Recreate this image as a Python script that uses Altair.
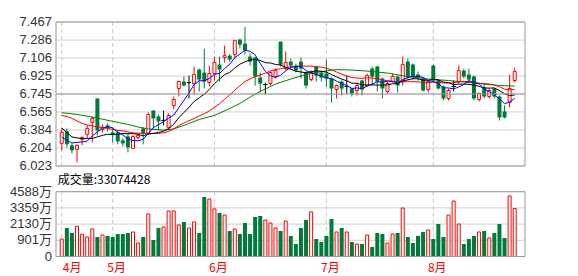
import altair as alt
import pandas as pd

# ---------------- data ----------------
months = ["4月", "5月", "6月", "7月", "8月"]
month_start = [0, 10, 30, 52, 73]

opens = [6.25, 6.37, 6.23, 6.19, 6.29, 6.34, 6.46, 6.70, 6.39, 6.43,
         6.36, 6.36, 6.28, 6.32, 6.20, 6.31, 6.40, 6.35, 6.58, 6.52,
         6.48, 6.41, 6.63, 6.80, 6.87, 6.86, 6.85, 6.99, 6.96, 6.86,
         6.95, 7.04, 7.11, 7.13, 7.14, 7.29, 7.25, 7.12, 7.11, 6.91,
         6.84, 6.85, 6.92, 7.27, 7.00, 7.07, 7.03, 7.07, 6.96, 6.89,
         7.02, 6.96, 6.95, 6.90, 6.79, 6.87, 6.82, 6.80, 6.78, 6.88,
         6.83, 7.00, 7.02, 6.90, 6.77, 6.87, 6.92, 6.87, 7.07, 7.04,
         6.94, 6.90, 6.79, 7.03, 6.88, 6.82, 6.70, 6.82, 6.87, 6.98,
         6.94, 6.92, 6.69, 6.81, 6.72, 6.80, 6.72, 6.57, 6.66, 6.88]
highs = [6.40, 6.40, 6.25, 6.24, 6.32, 6.43, 6.52, 6.70, 6.44, 6.45,
         6.40, 6.38, 6.30, 6.35, 6.33, 6.35, 6.41, 6.56, 6.58, 6.54,
         6.58, 6.55, 6.72, 6.88, 6.92, 6.93, 7.02, 7.00, 7.20, 7.03,
         7.12, 7.12, 7.23, 7.15, 7.29, 7.30, 7.42, 7.15, 7.12, 6.96,
         6.86, 6.97, 7.00, 7.27, 7.17, 7.10, 7.05, 7.11, 6.97, 6.98,
         7.03, 6.98, 7.09, 6.91, 6.84, 6.88, 6.93, 6.81, 6.86, 6.89,
         6.95, 7.02, 7.03, 6.91, 6.87, 6.95, 6.93, 7.12, 7.10, 7.05,
         6.97, 6.91, 6.88, 7.04, 6.89, 6.83, 6.80, 6.88, 7.03, 7.00,
         7.00, 6.93, 6.76, 6.85, 6.80, 6.81, 6.73, 6.63, 6.94, 7.01]
lows = [6.18, 6.21, 6.15, 6.06, 6.23, 6.30, 6.26, 6.33, 6.36, 6.37,
        6.26, 6.24, 6.22, 6.16, 6.20, 6.29, 6.24, 6.34, 6.40, 6.38,
        6.43, 6.38, 6.59, 6.72, 6.82, 6.70, 6.74, 6.77, 6.80, 6.82,
        6.88, 6.87, 7.06, 7.07, 7.10, 7.20, 7.14, 7.03, 6.83, 6.76,
        6.74, 6.83, 6.90, 7.02, 6.98, 6.99, 6.96, 6.90, 6.80, 6.87,
        6.87, 6.87, 6.82, 6.66, 6.70, 6.73, 6.75, 6.72, 6.73, 6.73,
        6.82, 6.83, 6.77, 6.70, 6.75, 6.86, 6.76, 6.83, 6.89, 6.89,
        6.88, 6.77, 6.76, 6.86, 6.79, 6.68, 6.68, 6.77, 6.85, 6.90,
        6.87, 6.68, 6.67, 6.70, 6.70, 6.70, 6.48, 6.50, 6.61, 6.86]
closes = [6.36, 6.24, 6.18, 6.23, 6.31, 6.40, 6.50, 6.38, 6.41, 6.40,
          6.34, 6.27, 6.25, 6.21, 6.32, 6.33, 6.35, 6.54, 6.50, 6.47,
          6.48, 6.53, 6.69, 6.87, 6.83, 6.86, 6.94, 6.89, 6.87, 6.95,
          7.06, 6.99, 7.13, 7.09, 7.28, 7.24, 7.18, 7.07, 6.92, 6.85,
          6.84, 6.96, 6.98, 7.04, 7.06, 7.03, 6.98, 7.00, 6.83, 6.96,
          6.93, 6.91, 6.90, 6.80, 6.83, 6.80, 6.82, 6.75, 6.83, 6.79,
          6.93, 6.92, 6.87, 6.80, 6.85, 6.92, 6.83, 7.04, 6.91, 6.92,
          6.91, 6.78, 6.87, 6.88, 6.80, 6.70, 6.78, 6.82, 6.98, 6.92,
          6.89, 6.70, 6.75, 6.72, 6.78, 6.72, 6.51, 6.51, 6.80, 6.97]
volumes = [1000, 1834, 1455, 1963, 1356, 1151, 1758, 1151, 1303, 1227,
           1151, 1379, 1379, 1455, 1531, 696, 1151, 2896, 924, 1834,
           1910, 3124, 3124, 2062, 2289, 1834, 2289, 1455, 4186, 4034,
           3276, 2972, 2820, 1607, 1758, 1379, 2213, 1379, 2669, 2744,
           2441, 2213, 1834, 1607, 2365, 1227, 620, 1834, 2441, 3048,
           1000, 772, 1227, 2517, 1531, 1834, 1531, 772, 620, 620,
           1303, 393, 1455, 1379, 696, 1379, 1455, 3351, 1151, 696,
           1227, 1531, 1682, 1000, 2138, 1151, 2820, 3882, 2138, 620,
           1000, 1227, 1531, 1607, 1076, 1455, 2138, 1076, 4262, 3307]

ma5 = [6.314, 6.280, 6.254, 6.260, 6.264, 6.272, 6.324, 6.364, 6.400, 6.418,
       6.406, 6.360, 6.334, 6.294, 6.278, 6.276, 6.292, 6.350, 6.408, 6.438,
       6.468, 6.504, 6.534, 6.608, 6.680, 6.756, 6.838, 6.878, 6.878, 6.902,
       6.942, 6.952, 7.000, 7.044, 7.110, 7.146, 7.184, 7.172, 7.138, 7.052,
       6.972, 6.928, 6.910, 6.934, 6.976, 7.014, 7.018, 7.022, 6.980, 6.960,
       6.940, 6.926, 6.906, 6.900, 6.874, 6.848, 6.830, 6.800, 6.806, 6.798,
       6.824, 6.844, 6.868, 6.862, 6.874, 6.872, 6.854, 6.888, 6.910, 6.924,
       6.922, 6.912, 6.878, 6.872, 6.848, 6.806, 6.806, 6.796, 6.816, 6.840,
       6.878, 6.862, 6.848, 6.796, 6.768, 6.734, 6.696, 6.648, 6.664, 6.702]
ma10 = [6.404, 6.360, 6.314, 6.305, 6.297, 6.300, 6.300, 6.315, 6.330, 6.341,
        6.339, 6.342, 6.349, 6.347, 6.348, 6.341, 6.326, 6.342, 6.351, 6.358,
        6.372, 6.398, 6.442, 6.508, 6.559, 6.612, 6.671, 6.706, 6.743, 6.791,
        6.849, 6.895, 6.939, 6.961, 7.006, 7.044, 7.068, 7.086, 7.091, 7.081,
        7.059, 7.056, 7.041, 7.036, 7.014, 6.993, 6.973, 6.966, 6.957, 6.968,
        6.977, 6.972, 6.964, 6.940, 6.917, 6.894, 6.878, 6.853, 6.853, 6.836,
        6.836, 6.837, 6.834, 6.834, 6.836, 6.848, 6.849, 6.878, 6.886, 6.899,
        6.897, 6.883, 6.883, 6.891, 6.886, 6.864, 6.859, 6.837, 6.844, 6.844,
        6.842, 6.834, 6.822, 6.806, 6.804, 6.806, 6.779, 6.748, 6.730, 6.735]
ma20 = [6.530, 6.520, 6.500, 6.475, 6.450, 6.435, 6.425, 6.415, 6.410, 6.400,
        6.390, 6.380, 6.375, 6.365, 6.355, 6.352, 6.350, 6.348, 6.348, 6.350,
        6.356, 6.370, 6.396, 6.428, 6.454, 6.477, 6.499, 6.524, 6.547, 6.575,
        6.611, 6.647, 6.691, 6.735, 6.783, 6.828, 6.870, 6.896, 6.917, 6.936,
        6.954, 6.976, 6.990, 6.999, 7.010, 7.019, 7.021, 7.026, 7.024, 7.025,
        7.018, 7.014, 7.003, 6.988, 6.966, 6.944, 6.926, 6.910, 6.905, 6.902,
        6.907, 6.905, 6.899, 6.887, 6.877, 6.871, 6.864, 6.866, 6.870, 6.868,
        6.867, 6.860, 6.859, 6.863, 6.861, 6.856, 6.854, 6.858, 6.865, 6.872,
        6.870, 6.859, 6.853, 6.849, 6.845, 6.835, 6.819, 6.793, 6.787, 6.790]
ma30_idx = [0, 3, 6, 10, 13, 15, 17, 20, 22, 24, 27, 30, 33, 35, 38, 42, 45, 48,
            51, 54, 57, 60, 64, 68, 72, 76, 81, 86, 89]
ma30 = [6.558, 6.540, 6.514, 6.471, 6.440, 6.414, 6.395, 6.383, 6.395, 6.430,
        6.490, 6.530, 6.600, 6.650, 6.745, 6.845, 6.895, 6.940, 6.970, 6.990,
        6.985, 6.975, 6.955, 6.920, 6.895, 6.880, 6.855, 6.830, 6.825]

price_ticks = [6.023, 6.204, 6.384, 6.565, 6.745, 6.925, 7.106, 7.286, 7.467]
vol_ticks = [-328, 901, 2130, 3359, 4588]
vol_tick_labels = ["0", "901万", "2130万", "3359万", "4588万"]
volume_caption = "成交量:33074428"

# ---------------- styling ----------------
W, H = 469, 235
P_TOP, P_BOT = 0, 144
V_TOP, V_BOT = 169.7, 234.5
RED, GREEN, BLACK = "#ff0000", "#007a3a", "#000000"
GRID, FRAME, DASH = "#d0d0d0", "#999999", "#c8c8c8"
LABEL_FONT = "Liberation Sans, Noto Sans CJK SC"
CJK_FONT = "Noto Sans CJK SC"

n = len(closes)
idx = list(range(n))
kdf = pd.DataFrame({"i": idx, "o": opens, "h": highs, "l": lows, "c": closes, "v": volumes})
kdf["dir"] = ["up" if c > o else ("down" if c < o else "flat") for o, c in zip(opens, closes)]
kdf["vdir"] = ["up" if c >= o else "down" for o, c in zip(opens, closes)]
kdf["vbase"] = vol_ticks[0]

madf = pd.DataFrame({"i": idx, "ma5": ma5, "ma10": ma10, "ma20": ma20})
ma30df = pd.DataFrame({"i": ma30_idx, "ma30": ma30})
mdf = pd.DataFrame({"i": month_start, "m": months})
one = pd.DataFrame({"k": [0]})
ptick_df = pd.DataFrame({"p": price_ticks, "lab": [f"{t:.3f}" for t in price_ticks]})
vtick_df = pd.DataFrame({"v": vol_ticks, "lab": vol_tick_labels})

xenc = alt.X("i:Q", scale=alt.Scale(domain=[-0.15, 90.04], nice=False, zero=False), axis=None)
pscale = alt.Scale(domain=[price_ticks[0], price_ticks[-1]], range=[P_BOT, P_TOP], nice=False, zero=False)
vscale = alt.Scale(domain=[vol_ticks[0], vol_ticks[-1]], range=[V_BOT, V_TOP], nice=False, zero=False)

dir_color = alt.Color("dir:N", scale=alt.Scale(domain=["up", "down", "flat"], range=[RED, GREEN, BLACK]), legend=None)

# ---------------- price panel ----------------
p_grid = alt.Chart(ptick_df).mark_rule(color=GRID, strokeWidth=1).encode(
    x=alt.value(0), x2=alt.value(W), y=alt.Y("p:Q", scale=pscale, axis=None))
p_labels = alt.Chart(ptick_df).mark_text(
    align="right", baseline="middle", dx=-4, fontSize=13, font=LABEL_FONT, color="#333333").encode(
    x=alt.value(0), y=alt.Y("p:Q", scale=pscale, axis=None), text="lab:N")
p_grid_dash = alt.Chart(mdf).mark_rule(color=DASH, strokeDash=[4, 3], strokeWidth=1).encode(
    x=xenc, y=alt.value(P_TOP), y2=alt.value(P_BOT))

wicks = alt.Chart(kdf).mark_rule(strokeWidth=1).encode(
    x=xenc, y=alt.Y("l:Q", scale=pscale, axis=None), y2="h:Q", color=dir_color)

body_up = alt.Chart(kdf).transform_filter("datum.dir == 'up'").mark_bar(
    size=3, fill="white", stroke=RED, strokeWidth=1).encode(
    x=xenc, y=alt.Y("o:Q", scale=pscale, axis=None), y2="c:Q")
body_down = alt.Chart(kdf).transform_filter("datum.dir == 'down'").mark_bar(
    size=4, color=GREEN).encode(
    x=xenc, y=alt.Y("o:Q", scale=pscale, axis=None), y2="c:Q")
body_flat = alt.Chart(kdf).transform_filter("datum.dir == 'flat'").mark_bar(
    size=4, fill=BLACK, stroke=BLACK, strokeWidth=1).encode(
    x=xenc, y=alt.Y("o:Q", scale=pscale, axis=None), y2="c:Q")

def ma_line(df, field, color):
    return alt.Chart(df).mark_line(color=color, strokeWidth=1).encode(
        x=xenc, y=alt.Y(f"{field}:Q", scale=pscale, axis=None))

l30 = ma_line(ma30df, "ma30", "#008000")
l20 = ma_line(madf, "ma20", "#ff0000")
l10 = ma_line(madf, "ma10", "#000000")
l5 = ma_line(madf, "ma5", "#0000ff")

pframe_h = alt.Chart(pd.DataFrame({"p": [price_ticks[0], price_ticks[4], price_ticks[-1]]})).mark_rule(
    color=FRAME, strokeWidth=1).encode(
    x=alt.value(0), x2=alt.value(W), y=alt.Y("p:Q", scale=pscale, axis=None))
pframe_l = alt.Chart(one).mark_rule(color=FRAME, strokeWidth=1).encode(
    x=alt.value(0), y=alt.value(P_TOP), y2=alt.value(P_BOT))
pframe_r = alt.Chart(one).mark_rule(color=FRAME, strokeWidth=1).encode(
    x=alt.value(W), y=alt.value(P_TOP), y2=alt.value(P_BOT))

price = alt.layer(p_grid, p_grid_dash, p_labels, wicks, body_up, body_down, body_flat,
                  l30, l20, l10, l5, pframe_h, pframe_l, pframe_r)

# ---------------- volume panel ----------------
v_grid = alt.Chart(vtick_df).mark_rule(color=GRID, strokeWidth=1).encode(
    x=alt.value(0), x2=alt.value(W), y=alt.Y("v:Q", scale=vscale, axis=None))
v_labels = alt.Chart(vtick_df).mark_text(
    align="right", baseline="middle", dx=-4, fontSize=13, font=LABEL_FONT, color="#333333").encode(
    x=alt.value(0), y=alt.Y("v:Q", scale=vscale, axis=None), text="lab:N")
v_grid_dash = alt.Chart(mdf).mark_rule(color=DASH, strokeDash=[4, 3], strokeWidth=1).encode(
    x=xenc, y=alt.value(V_TOP), y2=alt.value(V_BOT))

vol_down = alt.Chart(kdf).transform_filter("datum.vdir == 'down'").mark_bar(
    size=4, color=GREEN).encode(
    x=xenc, y=alt.Y("v:Q", scale=vscale, axis=None), y2="vbase:Q")
vol_up = alt.Chart(kdf).transform_filter("datum.vdir == 'up'").mark_bar(
    size=3, fill="white", stroke=RED, strokeWidth=1).encode(
    x=xenc, y=alt.Y("v:Q", scale=vscale, axis=None), y2="vbase:Q")

vframe_h = alt.Chart(pd.DataFrame({"v": [vol_ticks[0], vol_ticks[-1]]})).mark_rule(
    color=FRAME, strokeWidth=1).encode(
    x=alt.value(0), x2=alt.value(W), y=alt.Y("v:Q", scale=vscale, axis=None))
vframe_l = alt.Chart(one).mark_rule(color=FRAME, strokeWidth=1).encode(
    x=alt.value(0), y=alt.value(V_TOP), y2=alt.value(V_BOT))
vframe_r = alt.Chart(one).mark_rule(color=FRAME, strokeWidth=1).encode(
    x=alt.value(W), y=alt.value(V_TOP), y2=alt.value(V_BOT))

caption = alt.Chart(one).mark_text(
    text=volume_caption, align="left", baseline="alphabetic", fontSize=12,
    font=CJK_FONT, color="#000000").encode(x=alt.value(1.7), y=alt.value(162))

mlabel_first = alt.Chart(mdf.iloc[:1]).mark_text(
    align="left", baseline="middle", dx=1, fontSize=12, font=CJK_FONT, color=RED).encode(
    x=xenc, y=alt.value(245.7), text="m:N")
mlabel_rest = alt.Chart(mdf.iloc[1:]).mark_text(
    align="center", baseline="middle", dx=4, fontSize=12, font=CJK_FONT, color=RED).encode(
    x=xenc, y=alt.value(245.7), text="m:N")

vol = alt.layer(v_grid, v_grid_dash, v_labels, vol_down, vol_up, vframe_h, vframe_l, vframe_r,
                caption, mlabel_first, mlabel_rest)

chart = alt.layer(price, vol).resolve_scale(y="independent").properties(
    width=W, height=H,
    padding={"left": 56, "top": 22, "right": 53, "bottom": 19},
    autosize=alt.AutoSizeParams(type="none"),
).configure_view(stroke=None)

chart.save("out.html", embed_options={"renderer": "svg", "actions": False})
